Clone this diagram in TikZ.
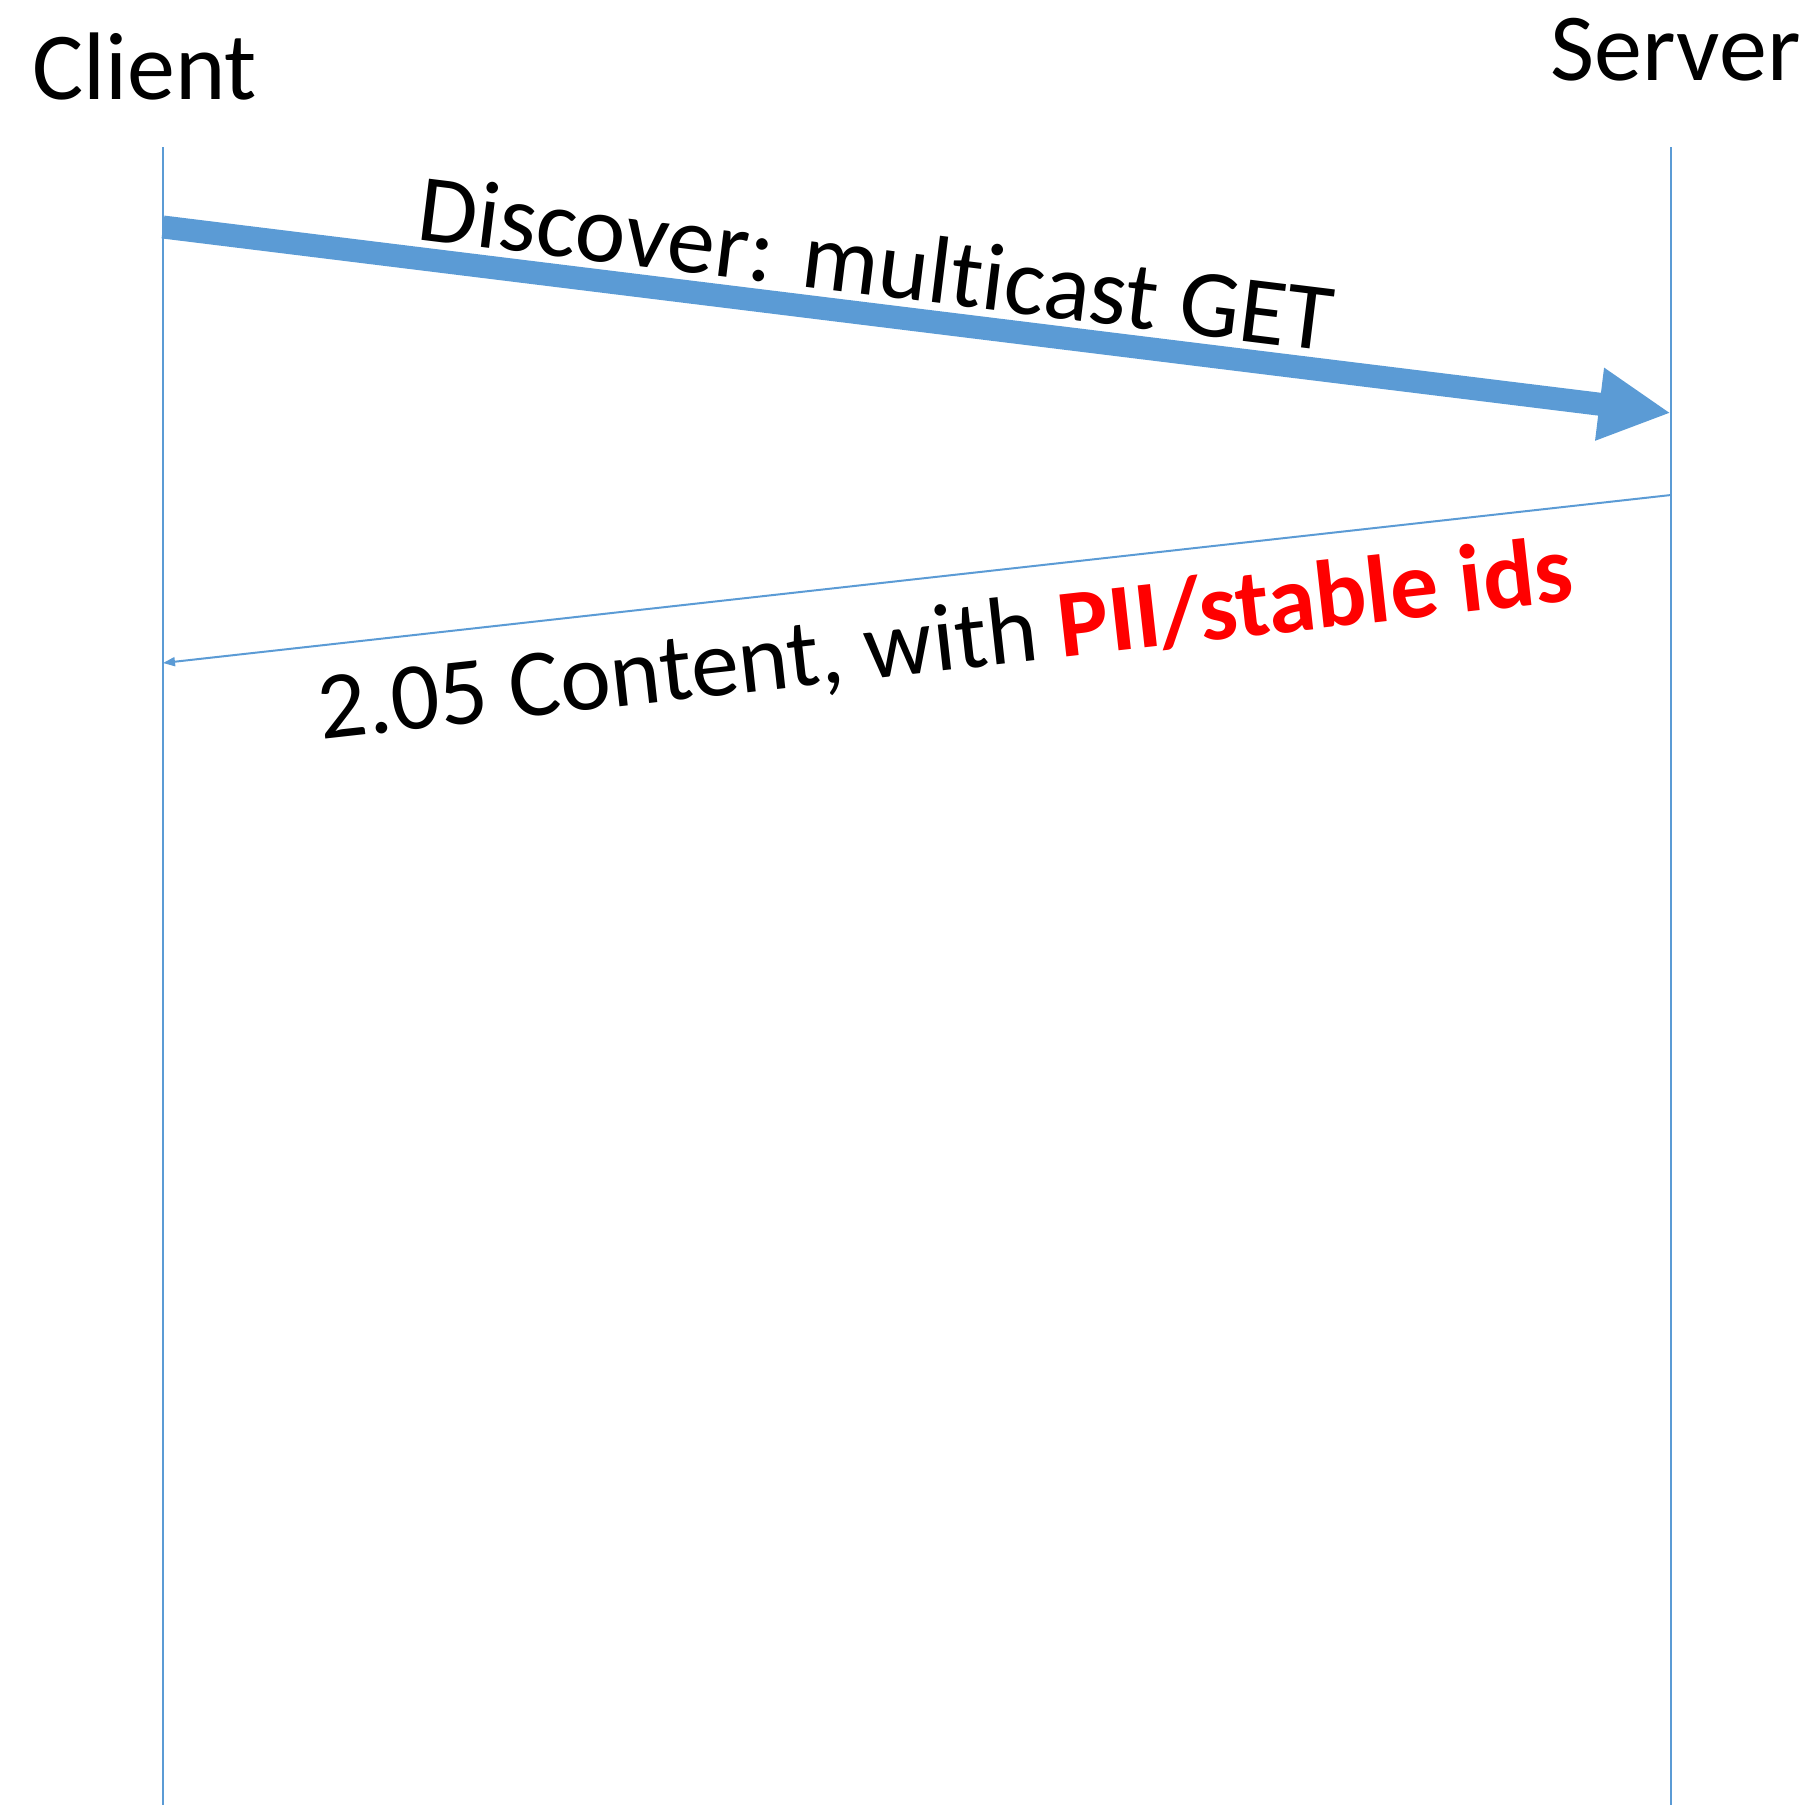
\documentclass[tikz,border=0pt]{standalone}
\usepackage{fontspec}
\setmainfont{Carlito}[Ligatures=NoCommon]
\usetikzlibrary{arrows.meta, positioning}
\definecolor{msgblue}{RGB}{91,155,213}
\definecolor{alertred}{RGB}{255,0,0}

\begin{document}
\begin{tikzpicture}[x=0.5pt, y=-0.5pt, every node/.style={font=\fontsize{48}{58}\selectfont, inner sep=0pt},
  lifeline/.style={draw=msgblue, line width=1.2pt}]
  \useasboundingbox (0,0) rectangle (1813,1805);

  \node[anchor=base west] (client) at (32,99) {Client};
  \node[anchor=base west] (server) at (1550,80) {Server};

  \coordinate (clienttop) at (163,147);
  \coordinate (clientbot) at (163,1805);
  \coordinate (servertop) at (1671,147);
  \coordinate (serverbot) at (1671,1805);
  \draw[lifeline] (clienttop) -- (clientbot);
  \draw[lifeline] (servertop) -- (serverbot);

  \coordinate (getstart) at (163,227);
  \coordinate (getend) at (1671,413);
  \draw[-{Triangle[length=36pt, width=34pt]}, msgblue, line width=11.5pt] (getstart) -- (getend)
    node[pos=0.469, sloped, anchor=base, yshift=9.5pt, text=black] (get) {Discover: multicast GET};

  \coordinate (respstart) at (1671,495);
  \coordinate (respend) at (163,663);
  \draw[-{Triangle[length=6pt, width=4.5pt]}, msgblue, line width=1pt] (respstart) -- (respend)
    node[pos=0.486, sloped, anchor=base, yshift=-47pt, text=black] (resp) {2.05 Content, with \textbf{\color{alertred}PII/stable ids}};
\end{tikzpicture}
\end{document}
